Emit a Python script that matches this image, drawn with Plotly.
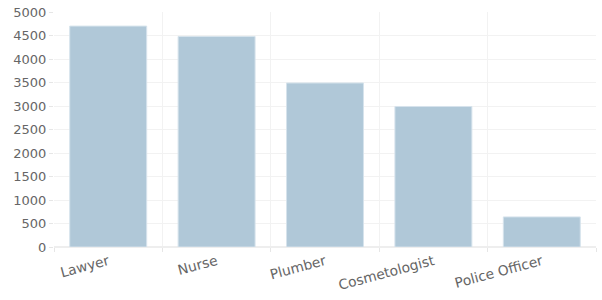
import plotly.graph_objects as go

categories = ["Lawyer", "Nurse", "Plumber", "Cosmetologist", "Police Officer"]
values = [4700, 4480, 3490, 2990, 640]

fig = go.Figure(go.Bar(
    x=categories, y=values,
    marker=dict(color="#b0c8d8", line=dict(color="#d6e3ec", width=1)),
))

fig.update_layout(
    width=602, height=300,
    margin=dict(l=54, r=6, t=12, b=53),
    paper_bgcolor="white", plot_bgcolor="white",
    bargap=0.29,
    showlegend=False,
    font=dict(family="DejaVu Sans", size=13, color="#666666"),
)
fig.update_xaxes(
    tickangle=-15, tickson="boundaries", showgrid=True, gridcolor="#f2f2f2",
    ticks="outside", ticklen=4, tickcolor="#e6e6e6", showline=False, zeroline=False,
    tickfont=dict(size=13.8, color="#666666"), ticklabelstandoff=3,
)
fig.update_yaxes(
    range=[0, 5000], dtick=500, showgrid=True, gridcolor="#f2f2f2",
    ticks="outside", ticklen=4, tickcolor="#e6e6e6", zeroline=True, zerolinecolor="#eeeeee",
    tickfont=dict(size=13, color="#666666"),
)

fig.write_html("out.html")
